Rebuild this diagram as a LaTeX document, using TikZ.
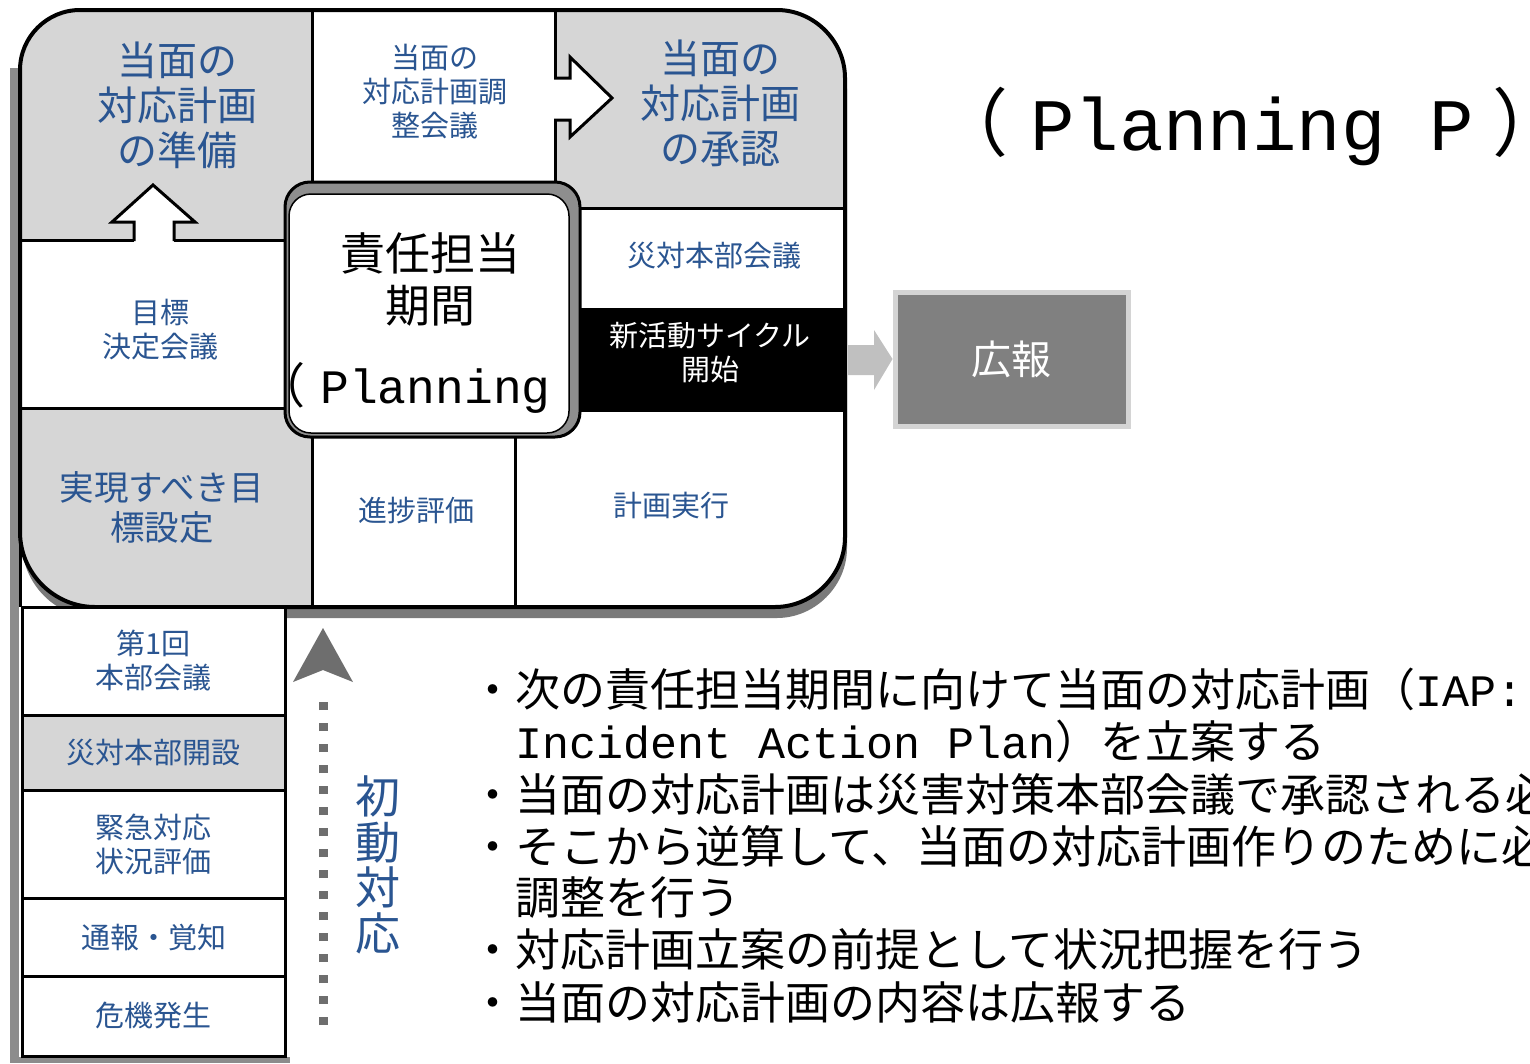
\documentclass[tikz,border=0pt]{standalone}
\usepackage{fontspec}
\setmainfont{Noto Sans CJK JP}
\newfontfamily\monof{Liberation Mono}
\definecolor{lblue}{HTML}{2A5591}
\definecolor{cellgray}{HTML}{D6D6D6}
\definecolor{shadowgray}{HTML}{7A7A7A}
\definecolor{leftgray}{HTML}{8C8C8C}
\definecolor{kohogray}{HTML}{808080}
\definecolor{kohoborder}{HTML}{D4D4D4}
\definecolor{arrgray}{HTML}{C0C0C0}
\definecolor{dotgray}{HTML}{6E6E6E}
\newcommand\fsz[2]{\fontsize{#1pt}{#2pt}\selectfont}
\tikzset{
  lbl/.style={text=lblue, align=center, inner sep=0pt},
  divline/.style={line width=3pt, black},
  colcell/.style={draw=black, line width=3pt, minimum width=263pt, inner sep=0pt, text=lblue, align=center, font=\fsz{29}{34}},
  hollowarrow/.style={fill=white, draw=black, line width=3pt, line join=miter},
  bulletline/.style={anchor=base west, inner sep=0pt, text=black, font=\fsz{45}{52}},
}
\def\boardpath{(20,70) .. controls (20,37) and (47,10) .. (80,10) -- (777,10) .. controls (814,10) and (845,41) .. (845,78) -- (845,537) .. controls (845,575) and (813,607) .. (775,607) -- (95,607) .. controls (54,607) and (20,573) .. (20,532) -- cycle}
\begin{document}
\begin{tikzpicture}[x=1pt,y=-1pt]
\useasboundingbox (0,0) rectangle (1530,1063);
\clip (0,0) rectangle (1530,1063);
\fill[white] (0,0) rectangle (1530,1063);

% left gray border
\draw[leftgray, line width=9pt] (14.5,68) -- (14.5,1063);
\draw[leftgray, line width=6pt] (12,1060) -- (290,1060);

% board shadow
\fill[shadowgray, shift={(2,11)}] \boardpath;

% board body
\fill[white] \boardpath;
\begin{scope}
  \clip \boardpath;
  \fill[cellgray] (0,0) rectangle (312,240);
  \fill[cellgray] (555,0) rectangle (850,208);
  \fill[cellgray] (0,408) rectangle (312,620);
  \fill[black] (580,308) rectangle (850,410);
\end{scope}

% dividers
\draw[divline] (312,10) -- (312,182);
\draw[divline] (555,10) -- (555,182);
\draw[divline] (20,240) -- (285,240);
\draw[divline] (20,408) -- (285,408);
\draw[divline] (580,208) -- (845,208);
\draw[divline] (580,410) -- (845,410);
\draw[divline] (312,437) -- (312,607);
\draw[divline] (515,437) -- (515,607);
\draw[divline] (20,520) -- (20,607);

% board outline
\draw[line width=4pt] \boardpath;

% hollow arrows
\fill[white] (134,222) rectangle (174,242);
\draw[hollowarrow] (134,241) -- (134,222) -- (112,222) -- (153,185) -- (195,222) -- (174,222) -- (174,241);
\fill[white] (553,78) rectangle (571,120);
\draw[hollowarrow] (554,78) -- (570,78) -- (570,57) -- (612,98) -- (570,137) -- (570,120) -- (554,120);

% central box
\draw[line width=3pt, fill=shadowgray!85, rounded corners=25pt] (285,182) rectangle (580,437);
\draw[line width=1.5pt, fill=white, rounded corners=22pt] (289,194) rectangle (569,433);
\node[align=center, inner sep=0pt, font=\fsz{45}{52}] (resp) at (430,279) {責任担当\\期間};
\node[anchor=base west, inner sep=0pt, font=\fsz{48}{52}] (plan) at (257,403) {（\hspace{15pt}{\monof Planning}};

% board labels
\node[lbl, font=\fsz{40}{45}] (prep) at (177,105) {当面の\\対応計画\\の準備};
\node[lbl, font=\fsz{29}{34}] (adj) at (435,92) {当面の\\対応計画調\\整会議};
\node[lbl, font=\fsz{40}{45}] (appr) at (720,103) {当面の\\対応計画\\の承認};
\node[lbl, font=\fsz{29}{34}] (hq) at (714,256) {災対本部会議};
\node[lbl, text=white, font=\fsz{29}{34}] (cycle) at (710,353) {新活動サイクル\\開始};
\node[lbl, font=\fsz{29}{34}] (goal) at (160,330) {目標\\決定会議};
\node[lbl, font=\fsz{34.5}{40}] (target) at (162,507) {実現すべき目\\標設定};
\node[lbl, font=\fsz{29}{34}] (prog) at (416,511) {進捗評価};
\node[lbl, font=\fsz{29}{34}] (exec) at (671,505) {計画実行};

% left column
\node[colcell, minimum height=108pt, fill=white] (c1) at (153.5,661) {第1回\\本部会議};
\node[colcell, minimum height=75pt, fill=cellgray] (c2) at (153.5,752.5) {災対本部開設};
\node[colcell, minimum height=108pt, fill=white] (c3) at (153.5,844) {緊急対応\\状況評価};
\node[colcell, minimum height=78pt, fill=white] (c4) at (153.5,937) {通報・覚知};
\node[colcell, minimum height=80pt, fill=white] (c5) at (153.5,1016) {危機発生};

% dotted arrow
\coordinate (dotS) at (323,1025);
\coordinate (dotE) at (323,690);
\coordinate (dotTip) at (323,628);
\draw[dotgray, line width=9pt, dash pattern=on 8pt off 13pt] (dotS) -- (dotE);
\fill[dotgray] (dotTip) -- ++(30,54) -- ++(-30,-12) -- ++(-30,12) -- cycle;
\node[lbl, font=\fsz{45}{45.5}] (init) at (378,865) {初\\動\\対\\応};

% koho
\node[draw=kohoborder, line width=5pt, fill=kohogray, minimum width=233pt, minimum height=134pt, text=white, font=\fsz{40}{48}] (koho) at (1011.5,359) {広報};
\fill[arrgray] (848,345) -- (874,345) -- (874,330) -- (koho.west) -- (874,390) -- (874,375) -- (848,375) -- cycle;

% title
\node[anchor=base west, inner sep=0pt, font=\fsz{74}{80}] (title) at (934,150) {（\hspace{22pt}{\monof Planning P}\hspace{18pt}）};

% bullets
\node[bulletline] (b1) at (470,706) {・次の責任担当期間に向けて当面の対応計画（{\monof IAP:}};
\node[bulletline] (b2) at (515,758) {{\monof Incident Action Plan}）を立案する};
\node[bulletline] (b3) at (470,811) {・当面の対応計画は災害対策本部会議で承認される必};
\node[bulletline] (b4) at (470,863) {・そこから逆算して、当面の対応計画作りのために必};
\node[bulletline] (b5) at (515,914) {調整を行う};
\node[bulletline] (b6) at (470,966) {・対応計画立案の前提として状況把握を行う};
\node[bulletline] (b7) at (470,1019) {・当面の対応計画の内容は広報する};
\end{tikzpicture}
\end{document}
